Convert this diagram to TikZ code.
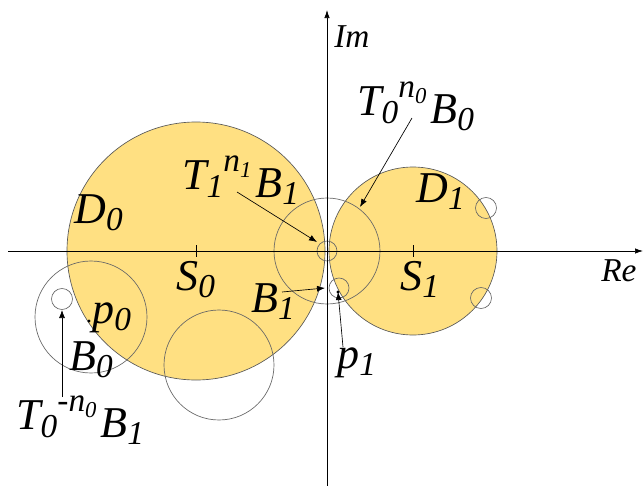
\documentclass[tikz,border=0pt]{standalone}
\usepackage{fontspec}
\setmainfont{Liberation Serif}
\usetikzlibrary{arrows.meta}

\definecolor{diskyellow}{RGB}{255,224,130}
\newcommand\lo[1]{\raisebox{-.18em}{\fontsize{25}{25}\selectfont#1}}
\newcommand\hi[1]{\raisebox{.4em}{\fontsize{25}{25}\selectfont#1}}
\newcommand\llo[1]{\raisebox{-.18em}{\fontsize{17}{17}\selectfont#1}}

\begin{document}
\begin{tikzpicture}[x=0.75pt,y=-0.75pt,
    disk/.style={fill=diskyellow,draw=black!65,line width=0.5pt},
    ring/.style={draw=black!60,line width=0.5pt},
    axis/.style={-{Latex[length=6pt,width=4pt]},draw=black,line width=0.5pt},
    arrow/.style={-{Latex[length=6pt,width=4.5pt]},draw=black,line width=0.5pt},
    lbl/.style={font=\fontsize{33}{38}\selectfont\itshape,inner sep=0pt,anchor=base west},
    axlbl/.style={font=\fontsize{25}{30}\selectfont\itshape,inner sep=0pt,anchor=base west}
  ]
    \useasboundingbox (0,0) rectangle (644,486);
    \coordinate (o) at (327,251);
    \coordinate (s0) at (196,251);
    \coordinate (s1) at (413,251);
    \path[disk] (s0) circle[radius=129];
    \path[disk] (s1) circle[radius=84];
    % small and large rings
    \foreach \c/\r in {{(327,251)}/53,{(327,251)}/10,{(339,288)}/10,{(91,317)}/56,
        {(62,299)}/10.5,{(219,365)}/55,{(486,208)}/10.5,{(481,298)}/10.5}
      \draw[ring] \c circle[radius=\r];
    \coordinate (xl) at (8,251);\coordinate (xr) at (643,251);
    \coordinate (yb) at (327,486);\coordinate (yt) at (327,10);
    \draw[axis] (xl)--(xr);\draw[axis] (yb)--(yt);
    \draw (s0)+(0,-6)--+(0,6);\draw (s1)+(0,-6)--+(0,6);
    \coordinate (p0) at (89,321);\coordinate (p1) at (338,292);
    \fill (p0) circle[radius=1.6];\fill (p1) circle[radius=1.6];
    \coordinate (hitA) at (360,207);\coordinate (hitB) at (317,242);
    \coordinate (hitC) at (325,288);\coordinate (hitD) at (62,310);

    \node[axlbl] (im) at (334,47) {Im};
    \node[axlbl] (re) at (601,281) {Re};
    \node[lbl] (d0) at (74,223) {D\lo{0}};
    \node[lbl] (d1) at (416,202) {D\lo{1}};
    \node[lbl] (ls0) at (176,290) {S\lo{0}};
    \node[lbl] (ls1) at (400,290) {S\lo{1}};
    \node[lbl] (b0) at (69,370) {B\lo{0}};
    \node[lbl] (b1) at (251,312) {B\lo{1}};
    \node[lbl] (lp0) at (92,323) {p\lo{0}};
    \node[lbl] (lp1) at (337,368) {p\lo{1}};
    \node[lbl] (ta) at (357,123) {\raisebox{.18em}{T\lo{0}\hi{n\llo{0}}}\kern3pt B\lo{0}};
    \node[lbl] (tb) at (182,197) {\raisebox{.18em}{T\lo{1}\hi{n\llo{1}}}\kern3pt B\lo{1}};
    \node[lbl] (tc) at (16,437) {\raisebox{.18em}{T\lo{0}\hi{-n\llo{0}}}\kern3pt B\lo{1}};
    \draw[arrow] ([shift={(55,-5)}]ta.base west)--(hitA);
    \draw[arrow] ([shift={(55,-5)}]tb.base west)--(hitB);
    \draw[arrow] ([shift={(31,-20)}]b1.base west)--(hitC);
    \draw[arrow] ([shift={(6,-21)}]lp1.base west)--(p1);
    \draw[arrow] ([shift={(46,-40)}]tc.base west)--(hitD);
  \end{tikzpicture}
\end{document}
